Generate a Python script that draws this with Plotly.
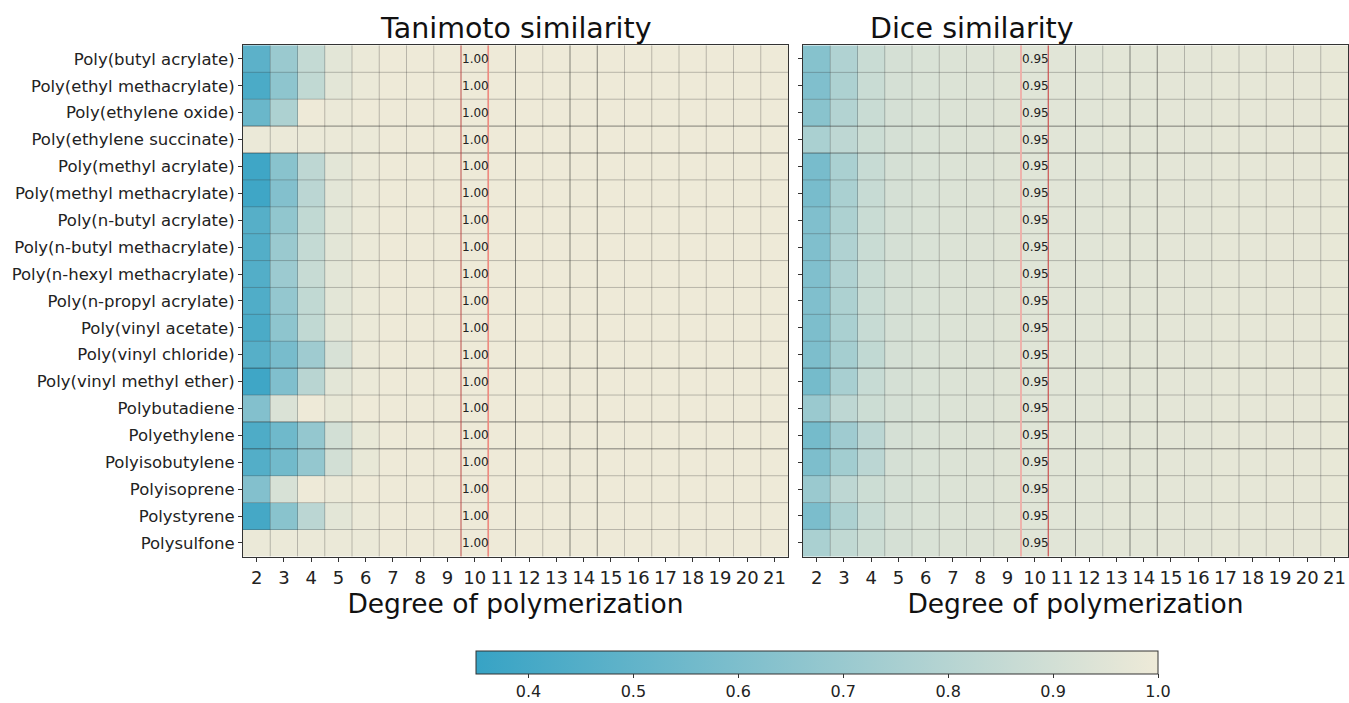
import plotly.graph_objects as go

polymers = [
    "Poly(butyl acrylate)", "Poly(ethyl methacrylate)", "Poly(ethylene oxide)",
    "Poly(ethylene succinate)", "Poly(methyl acrylate)", "Poly(methyl methacrylate)",
    "Poly(n-butyl acrylate)", "Poly(n-butyl methacrylate)", "Poly(n-hexyl methacrylate)",
    "Poly(n-propyl acrylate)", "Poly(vinyl acetate)", "Poly(vinyl chloride)",
    "Poly(vinyl methyl ether)", "Polybutadiene", "Polyethylene", "Polyisobutylene",
    "Polyisoprene", "Polystyrene", "Polysulfone",
]
dp = list(range(2, 22))

# Tanimoto: values for DP 2..6 per polymer; DP 7..21 read as 1.00
tanimoto_head = [
    [0.48, 0.70, 0.85, 0.96, 0.99],
    [0.42, 0.66, 0.84, 0.96, 0.99],
    [0.53, 0.77, 1.00, 0.99, 1.00],
    [0.99, 0.99, 0.99, 0.99, 0.99],
    [0.38, 0.64, 0.83, 0.96, 0.99],
    [0.38, 0.62, 0.82, 0.96, 0.99],
    [0.46, 0.67, 0.84, 0.96, 0.99],
    [0.45, 0.70, 0.85, 0.96, 0.99],
    [0.45, 0.71, 0.86, 0.96, 0.99],
    [0.44, 0.68, 0.84, 0.96, 0.99],
    [0.42, 0.66, 0.84, 0.96, 0.99],
    [0.46, 0.58, 0.72, 0.92, 0.99],
    [0.38, 0.61, 0.81, 0.96, 0.99],
    [0.62, 0.93, 1.00, 0.98, 1.00],
    [0.43, 0.55, 0.68, 0.90, 0.98],
    [0.45, 0.56, 0.68, 0.90, 0.98],
    [0.62, 0.92, 1.00, 0.99, 1.00],
    [0.40, 0.64, 0.82, 0.96, 0.99],
    [0.99, 0.99, 0.99, 0.99, 0.99],
]
tanimoto_tail = [1.0, 1.0, 1.0, 1.0, 1.0, 1.0, 1.0, 1.0, 1.0, 1.0, 1.0, 1.0, 1.0, 1.0, 1.0]

# Dice: values for DP 2..4 per polymer; DP 5..21 shared tail
dice_head = [
    [0.63, 0.78, 0.87],
    [0.61, 0.77, 0.87],
    [0.64, 0.79, 0.87],
    [0.76, 0.83, 0.88],
    [0.58, 0.76, 0.86],
    [0.58, 0.76, 0.86],
    [0.61, 0.77, 0.87],
    [0.61, 0.78, 0.87],
    [0.61, 0.78, 0.87],
    [0.61, 0.77, 0.87],
    [0.60, 0.76, 0.86],
    [0.60, 0.74, 0.84],
    [0.57, 0.75, 0.86],
    [0.70, 0.83, 0.88],
    [0.57, 0.72, 0.82],
    [0.60, 0.73, 0.82],
    [0.70, 0.83, 0.88],
    [0.59, 0.77, 0.86],
    [0.76, 0.84, 0.88],
]
dice_tail = [0.91, 0.925, 0.935, 0.94, 0.945, 0.95, 0.955, 0.955, 0.96, 0.96,
             0.965, 0.965, 0.97, 0.97, 0.975, 0.975, 0.98]

tanimoto_label = "1.00"
dice_label = "0.95"
threshold_dp = 10
cbar_ticks = [0.4, 0.5, 0.6, 0.7, 0.8, 0.9, 1.0]
cbar_text = ["0.4", "0.5", "0.6", "0.7", "0.8", "0.9", "1.0"]
zmin, zmax = 0.35, 1.0

tanimoto = [h + tanimoto_tail for h in tanimoto_head]
dice = [h + dice_tail for h in dice_head]

FONT = "DejaVu Sans"
W, H = 1349, 703
colorscale = [[0.0, "#37A3C5"], [1.0, "#EEEAD8"]]

fig = go.Figure()
fig.add_trace(go.Heatmap(z=tanimoto, x=dp, y=polymers, xaxis="x", yaxis="y",
                         colorscale=colorscale, zmin=zmin, zmax=zmax, showscale=False))
fig.add_trace(go.Heatmap(z=dice, x=dp, y=polymers, xaxis="x2", yaxis="y2",
                         colorscale=colorscale, zmin=zmin, zmax=zmax,
                         colorbar=dict(orientation="h", x=(476 + 1158) / 2 / W, xanchor="center",
                                       y=1 - 657 / H, yanchor="top", len=682 / W, lenmode="fraction",
                                       thickness=23, xpad=0, ypad=0, outlinewidth=1, outlinecolor="#333",
                                       tickvals=cbar_ticks, ticktext=cbar_text, ticks="outside",
                                       ticklen=4, tickcolor="#333",
                                       tickfont=dict(family=FONT, size=16, color="#222"))))

dom1 = [243 / W, 788 / W]
dom2 = [803 / W, 1348 / W]
ydom = [1 - 562 / H, 1 - 45 / H]

xax = dict(range=[1.5, 21.5], tickvals=dp, ticktext=[str(v) for v in dp], showgrid=False,
           zeroline=False, showline=True, mirror=True, linecolor="#333", linewidth=1.2,
           ticks="outside", ticklen=4, tickcolor="#333", automargin=False,
           tickfont=dict(family=FONT, size=18, color="#222"),
           title=dict(text="Degree of polymerization", font=dict(family=FONT, size=26.5, color="#111"),
                      standoff=4))
yax = dict(autorange="reversed", showgrid=False, zeroline=False, showline=True, mirror=True,
           linecolor="#333", linewidth=1.2, ticks="outside", ticklen=4, tickcolor="#333",
           automargin=False, tickfont=dict(family=FONT, size=16.5, color="#222"))

fig.update_layout(
    width=W, height=H, margin=dict(l=0, r=0, t=0, b=0),
    paper_bgcolor="white", plot_bgcolor="white",
    xaxis=dict(domain=dom1, anchor="y", **xax),
    yaxis=dict(domain=ydom, anchor="x", **yax),
    xaxis2=dict(domain=dom2, anchor="y2", **xax),
    yaxis2=dict(domain=ydom, anchor="x2", showticklabels=False, **yax),
    font=dict(family=FONT),
)

shapes = []
annotations = []
n = len(polymers)
dark_h = [2.5, 3.5, 11.5, 13.5, 14.5]
dark_v = [11.5, 13.5, 14.5]
for xr, yr in [("x", "y"), ("x2", "y2")]:
    for k in range(len(dp) - 1):
        xv = dp[k] + 0.5
        c = "rgba(40,40,40,0.55)" if xv in dark_v else "rgba(60,60,60,0.3)"
        shapes.append(dict(type="line", xref=xr, yref=yr, x0=xv, x1=xv, y0=-0.5, y1=n - 0.5,
                           line=dict(color=c, width=1)))
    for k in range(n - 1):
        yv = k + 0.5
        c = "rgba(40,40,40,0.55)" if yv in dark_h else "rgba(60,60,60,0.3)"
        shapes.append(dict(type="line", xref=xr, yref=yr, x0=1.5, x1=21.5, y0=yv, y1=yv,
                           line=dict(color=c, width=1)))

# red threshold lines
shapes.append(dict(type="line", xref="x", yref="y", x0=threshold_dp - 0.5, x1=threshold_dp - 0.5,
                   y0=-0.5, y1=n - 0.5, line=dict(color="rgba(220,60,60,0.7)", width=1)))
shapes.append(dict(type="line", xref="x", yref="y", x0=threshold_dp + 0.5, x1=threshold_dp + 0.5,
                   y0=-0.5, y1=n - 0.5, line=dict(color="#F08A80", width=1.6)))
shapes.append(dict(type="line", xref="x2", yref="y2", x0=threshold_dp - 0.5, x1=threshold_dp - 0.5,
                   y0=-0.5, y1=n - 0.5, line=dict(color="#F2B0AA", width=1.8)))
shapes.append(dict(type="line", xref="x2", yref="y2", x0=threshold_dp + 0.5, x1=threshold_dp + 0.5,
                   y0=-0.5, y1=n - 0.5, line=dict(color="#D84848", width=1)))

for i in range(n):
    annotations.append(dict(xref="x", yref="y", x=threshold_dp - 0.5, y=i, text=tanimoto_label,
                            showarrow=False, xanchor="left", yanchor="middle", xshift=-1,
                            font=dict(family=FONT, size=12, color="#222")))
    annotations.append(dict(xref="x2", yref="y2", x=threshold_dp - 0.5, y=i, text=dice_label,
                            showarrow=False, xanchor="left", yanchor="middle", xshift=-1,
                            font=dict(family=FONT, size=12, color="#222")))

annotations.append(dict(xref="paper", yref="paper", x=sum(dom1) / 2, y=ydom[1], yanchor="bottom",
                        text="Tanimoto similarity", showarrow=False, yshift=-2,
                        font=dict(family=FONT, size=28.5, color="#111")))
annotations.append(dict(xref="paper", yref="paper", x=sum(dom2) / 2, y=ydom[1], yanchor="bottom",
                        text="Dice similarity", showarrow=False, yshift=-2,
                        font=dict(family=FONT, size=28.5, color="#111")))

fig.update_layout(shapes=shapes, annotations=annotations)
fig.write_html("out.html")
